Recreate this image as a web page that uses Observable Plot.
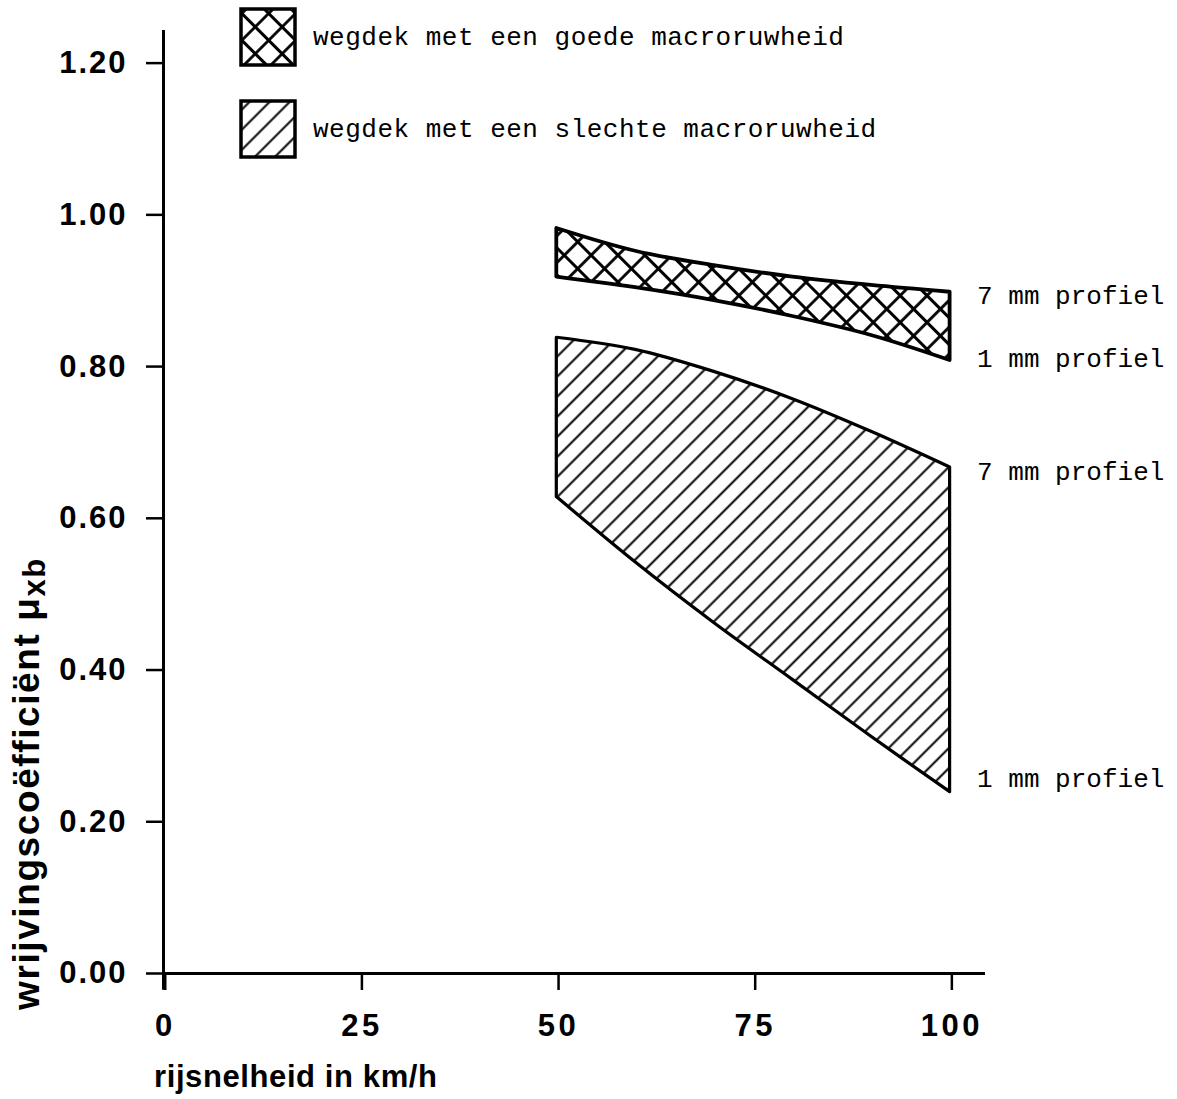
<!DOCTYPE html>
<html>
<head>
<meta charset="utf-8">
<script src="https://cdn.jsdelivr.net/npm/d3@7"></script>
<script src="https://cdn.jsdelivr.net/npm/@observablehq/plot@0.6"></script>
<style>
  body { margin: 0; background: #fff; }
  #chart svg { display: block; }
</style>
</head>
<body>
<div id="chart"></div>
<script>
// speed (km/h)
const speeds = [50, 60, 70, 80, 90, 100];
// good macro-roughness: 7 mm profile (upper) and 1 mm profile (lower)
const goodHigh = [0.982, 0.952, 0.933, 0.918, 0.907, 0.898];
const goodLow  = [0.918, 0.904, 0.887, 0.866, 0.841, 0.808];
// poor macro-roughness: 7 mm profile (upper) and 1 mm profile (lower)
const poorHigh = [0.838, 0.822, 0.793, 0.757, 0.714, 0.667];
const poorLow  = [0.628, 0.542, 0.462, 0.387, 0.312, 0.239];

const xTicks = [0, 25, 50, 75, 100];
const yTicks = [0, 0.2, 0.4, 0.6, 0.8, 1.0, 1.2];

const endLabels = ["7 mm profiel", "1 mm profiel", "7 mm profiel", "1 mm profiel"];
const endLabelValues = [0.893, 0.811, 0.661, 0.257];

const legendLabels = ["wegdek met een goede macroruwheid", "wegdek met een slechte macroruwheid"];
const xTitle = "rijsnelheid in km/h";
const yTitle = "wrijvingscoëfficiënt μ";
const yTitleSub = "xb";

const good = speeds.map((x, i) => ({x, lo: goodLow[i], hi: goodHigh[i]}));
const poor = speeds.map((x, i) => ({x, lo: poorLow[i], hi: poorHigh[i]}));
const labels = endLabels.map((t, i) => ({t, y: endLabelValues[i]}));

const sans = "'Liberation Sans', Arial, Helvetica, sans-serif";
const mono = "'Liberation Mono', 'DejaVu Sans Mono', monospace";

const plot = Plot.plot({
  width: 1177,
  height: 1099,
  marginLeft: 163,
  marginRight: 192,
  marginTop: 30,
  marginBottom: 126,
  x: {domain: [0, 104.5]},
  y: {domain: [0, 1.243]},
  style: {background: "#fff", color: "#000", fontFamily: sans},
  marks: [
    Plot.areaY(poor, {x: "x", y1: "lo", y2: "hi", curve: "catmull-rom",
      fill: "url(#hatch)", stroke: "#000", strokeWidth: 3.2, strokeLinejoin: "round"}),
    Plot.areaY(good, {x: "x", y1: "lo", y2: "hi", curve: "catmull-rom",
      fill: "url(#xhatch)", stroke: "#000", strokeWidth: 3.8, strokeLinejoin: "round"}),
    Plot.ruleX([0], {y1: -0.022, y2: 1.243, stroke: "#000", strokeWidth: 3}),
    Plot.ruleY([0], {x1: 0, x2: 104.5, stroke: "#000", strokeWidth: 3}),
    Plot.axisY(yTicks, {tickSize: 17, tickPadding: 19, strokeWidth: 2.5,
      tickFormat: d3.format(".2f"), fontSize: 31, fontWeight: "bold", label: null}),
    Plot.axisX(xTicks, {tickSize: 17, tickPadding: 23, strokeWidth: 2.5, dx: 1.75,
      tickFormat: d => String(d), fontSize: 31, fontWeight: "bold", label: null}),
    Plot.text(labels, {x: () => 100, y: "y", text: "t", textAnchor: "start", dx: 27,
      fontFamily: mono, fontSize: 26, fill: "#000"})
  ]
});

document.getElementById("chart").appendChild(plot);

const svg = d3.select(plot);
// wider tick glyph spacing
svg.selectAll('[aria-label="y-axis tick label"] text').attr("letter-spacing", 2);
svg.selectAll('[aria-label="x-axis tick label"] text').attr("letter-spacing", 3.5);

const defs = svg.insert("defs", ":first-child");
const xh = defs.append("pattern").attr("id", "xhatch").attr("patternUnits", "userSpaceOnUse")
  .attr("width", 19).attr("height", 19).attr("patternTransform", "rotate(45)");
xh.append("path").attr("d", "M0,9.5H19M9.5,0V19").attr("stroke", "#000").attr("stroke-width", 2.8).attr("fill", "none");
const hh = defs.append("pattern").attr("id", "hatch").attr("patternUnits", "userSpaceOnUse")
  .attr("width", 14.2).attr("height", 14.2).attr("patternTransform", "rotate(45)");
hh.append("path").attr("d", "M7.1,0V14.2").attr("stroke", "#000").attr("stroke-width", 2).attr("fill", "none");

// legend
const lg = svg.append("g").attr("text-anchor", "start");
[["url(#xhatch)", 9], ["url(#hatch)", 101]].forEach(([f, y], i) => {
  lg.append("rect").attr("x", 241).attr("y", y).attr("width", 54).attr("height", 56)
    .attr("fill", f).attr("stroke", "#000").attr("stroke-width", 3.5);
  lg.append("text").attr("x", 313).attr("y", y + 36).attr("font-family", mono)
    .attr("font-size", 26).attr("letter-spacing", 0.5).attr("fill", "#000").text(legendLabels[i]);
});

// axis titles
const xs = plot.scale("x"), ys = plot.scale("y");
svg.append("text").attr("text-anchor", "start").attr("x", xs.apply(0) - 9).attr("y", 1087)
  .attr("font-family", sans).attr("font-size", 31).attr("font-weight", "bold")
  .attr("letter-spacing", 0.6).attr("fill", "#000").text(xTitle);
const yt = svg.append("text").attr("text-anchor", "start")
  .attr("transform", `translate(39,${ys.apply(0) + 37}) rotate(-90)`)
  .attr("font-family", sans).attr("font-size", 37).attr("font-weight", "bold")
  .attr("letter-spacing", 1.6).attr("fill", "#000");
yt.append("tspan").text(yTitle);
yt.append("tspan").attr("dy", 6).attr("font-size", 31).text(yTitleSub);
</script>
</body>
</html>
